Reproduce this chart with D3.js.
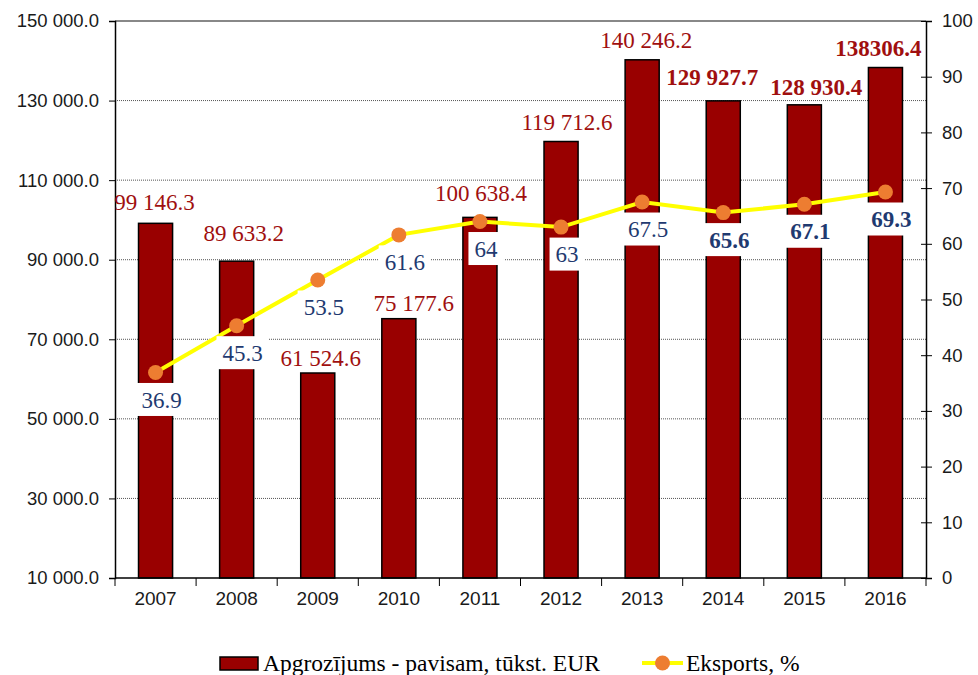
<!DOCTYPE html>
<html>
<head>
<meta charset="utf-8">
<script src="https://cdn.jsdelivr.net/npm/d3@7"></script>
<style>
body { margin: 0; background: #fff; }
</style>
</head>
<body>
<script>
var years = ["2007","2008","2009","2010","2011","2012","2013","2014","2015","2016"];
var turnover = [99146.3, 89633.2, 61524.6, 75177.6, 100638.4, 119712.6, 140246.2, 129927.7, 128930.4, 138306.4];
var turnoverLabels = ["99 146.3","89 633.2","61 524.6","75 177.6","100 638.4","119 712.6","140 246.2","129 927.7","128 930.4","138306.4"];
var exportPct = [36.9, 45.3, 53.5, 61.6, 64, 63, 67.5, 65.6, 67.1, 69.3];
var leftTicks = [10000, 30000, 50000, 70000, 90000, 110000, 130000, 150000];
var rightTicks = [0, 10, 20, 30, 40, 50, 60, 70, 80, 90, 100];
var legendNames = ["Apgrozījums - pavisam, tūkst. EUR", "Eksports, %"];

// hand-placed turnover labels: nudge right and lift above the bar, in px
var labelShift = [-1, 7, 3, 15, 1, 6, 4, -11, 12, -7];
var labelLift = [21, 28, 15, 16, 24, 20, 20, 24, 18, 20];

var plotLeft = 115, plotRight = 926, plotTop = 21, plotBottom = 578;

var svg = d3.select("body").append("svg")
.attr("width", 978)
.attr("height", 675);

var x = d3.scaleBand().domain(years).range([plotLeft, plotRight]).paddingInner(0.58).paddingOuter(0.29);
var yL = d3.scaleLinear().domain([10000, 150000]).range([plotBottom, plotTop]);
var yR = d3.scaleLinear().domain([0, 100]).range([plotBottom, plotTop]);

var fmt = function(d) { return d3.format(",.1f")(d).replace(/,/g, " "); };

// grid
svg.append("g").selectAll("line")
.data(leftTicks.slice(1, -1))
.enter().append("line")
.attr("x1", plotLeft).attr("x2", plotRight)
.attr("y1", function(d) { return yL(d); })
.attr("y2", function(d) { return yL(d); })
.attr("stroke", "#555")
.attr("stroke-width", 1)
.attr("stroke-dasharray", "1,1");

svg.append("line")
.attr("x1", plotLeft).attr("x2", plotRight)
.attr("y1", yL(150000)).attr("y2", yL(150000))
.attr("stroke", "#888").attr("stroke-width", 2);

// bars
svg.append("g").selectAll("rect")
.data(turnover)
.enter().append("rect")
.attr("x", function(d, i) { return x(years[i]); })
.attr("y", function(d) { return yL(d); })
.attr("width", x.bandwidth())
.attr("height", function(d) { return yL(10000) - yL(d); })
.attr("fill", "#990000")
.attr("stroke", "#000")
.attr("stroke-width", 1.5);

// axes
var axisL = svg.append("g")
.attr("transform", "translate(" + plotLeft + ",0)")
.call(d3.axisLeft(yL).tickValues(leftTicks).tickSize(6).tickPadding(10).tickFormat(fmt));

var axisR = svg.append("g")
.attr("transform", "translate(" + plotRight + ",0)")
.call(d3.axisRight(yR).tickValues(rightTicks).tickSize(6).tickPadding(10));
axisR.selectAll(".tick line").attr("x1", -5);

var axisB = svg.append("g")
.attr("transform", "translate(0," + plotBottom + ")")
.call(d3.axisBottom(x).tickSize(0).tickPadding(14));
axisB.select(".domain").attr("d", "M" + plotLeft + ",0H" + plotRight);

var step = x.step();
svg.append("g").selectAll("line")
.data(d3.range(years.length + 1))
.enter().append("line")
.attr("x1", function(i) { return plotLeft + i * step; })
.attr("x2", function(i) { return plotLeft + i * step; })
.attr("y1", plotBottom).attr("y2", plotBottom + 8)
.attr("stroke", "#000").attr("stroke-width", 1);

[axisL, axisR, axisB].forEach(function(a) {
  a.selectAll(".domain").attr("stroke", "#000").attr("stroke-width", 1.5);
  a.selectAll(".tick line").attr("stroke", "#000");
  a.selectAll("text")
  .attr("font-family", "Liberation Sans, Arial, sans-serif")
  .attr("font-size", 18.5)
  .attr("fill", "#1a1a1a");
});
axisB.selectAll("text").attr("font-size", 19);
axisB.selectAll("text").attr("dy", "0.71em");

// line
var cx = function(i) { return x(years[i]) + x.bandwidth() / 2; };
var linePath = d3.line()
.x(function(d, i) { return cx(i); })
.y(function(d) { return yR(d); });

svg.append("path")
.attr("d", linePath(exportPct))
.attr("fill", "none")
.attr("stroke", "#ffff00")
.attr("stroke-width", 4);

svg.append("g").selectAll("circle")
.data(exportPct)
.enter().append("circle")
.attr("cx", function(d, i) { return cx(i); })
.attr("cy", function(d) { return yR(d); })
.attr("r", 7.5)
.attr("fill", "#ed7d31");

// turnover labels
svg.append("g").selectAll("text")
.data(turnover)
.enter().append("text")
.attr("x", function(d, i) { return cx(i) + labelShift[i]; })
.attr("y", function(d, i) { return yL(d) - labelLift[i]; })
.attr("dy", "0.35em")
.attr("text-anchor", "middle")
.attr("font-family", "Liberation Serif, Times New Roman, serif")
.attr("font-size", 23)
.attr("font-weight", function(d, i) { return i >= 7 ? "bold" : "normal"; })
.attr("fill", "#a00f0f")
.text(function(d, i) { return turnoverLabels[i]; });

// export labels with white boxes
var pctG = svg.append("g").selectAll("g")
.data(exportPct)
.enter().append("g")
.attr("transform", function(d, i) { return "translate(" + (cx(i) + 6) + "," + (yR(d) + 27) + ")"; });

pctG.append("text")
.attr("dy", "0.35em")
.attr("text-anchor", "middle")
.attr("font-family", "Liberation Serif, Times New Roman, serif")
.attr("font-size", 23)
.attr("font-weight", function(d, i) { return i >= 7 ? "bold" : "normal"; })
.attr("fill", "#1f3a70")
.text(function(d) { return d; });

pctG.each(function() {
  var g = d3.select(this);
  var b = g.select("text").node().getBBox();
  g.insert("rect", "text")
  .attr("x", b.x - 6).attr("y", -16.5)
  .attr("width", b.width + 12).attr("height", 33)
  .attr("fill", "#fff");
});

// legend
var leg = svg.append("g");
leg.append("rect")
.attr("x", 220).attr("y", 657).attr("width", 38).attr("height", 13)
.attr("fill", "#990000").attr("stroke", "#000").attr("stroke-width", 1.5);
leg.append("text")
.attr("x", 263).attr("y", 663).attr("dy", "0.35em")
.attr("font-family", "Liberation Serif, Times New Roman, serif")
.attr("font-size", 23.5).attr("fill", "#000")
.text(legendNames[0]);
leg.append("line")
.attr("x1", 642).attr("x2", 683).attr("y1", 663).attr("y2", 663)
.attr("stroke", "#ffff00").attr("stroke-width", 4);
leg.append("circle")
.attr("cx", 662.5).attr("cy", 663).attr("r", 7.5).attr("fill", "#ed7d31");
leg.append("text")
.attr("x", 686).attr("y", 663).attr("dy", "0.35em")
.attr("font-family", "Liberation Serif, Times New Roman, serif")
.attr("font-size", 23.5).attr("fill", "#000")
.text(legendNames[1]);
</script>
</body>
</html>
